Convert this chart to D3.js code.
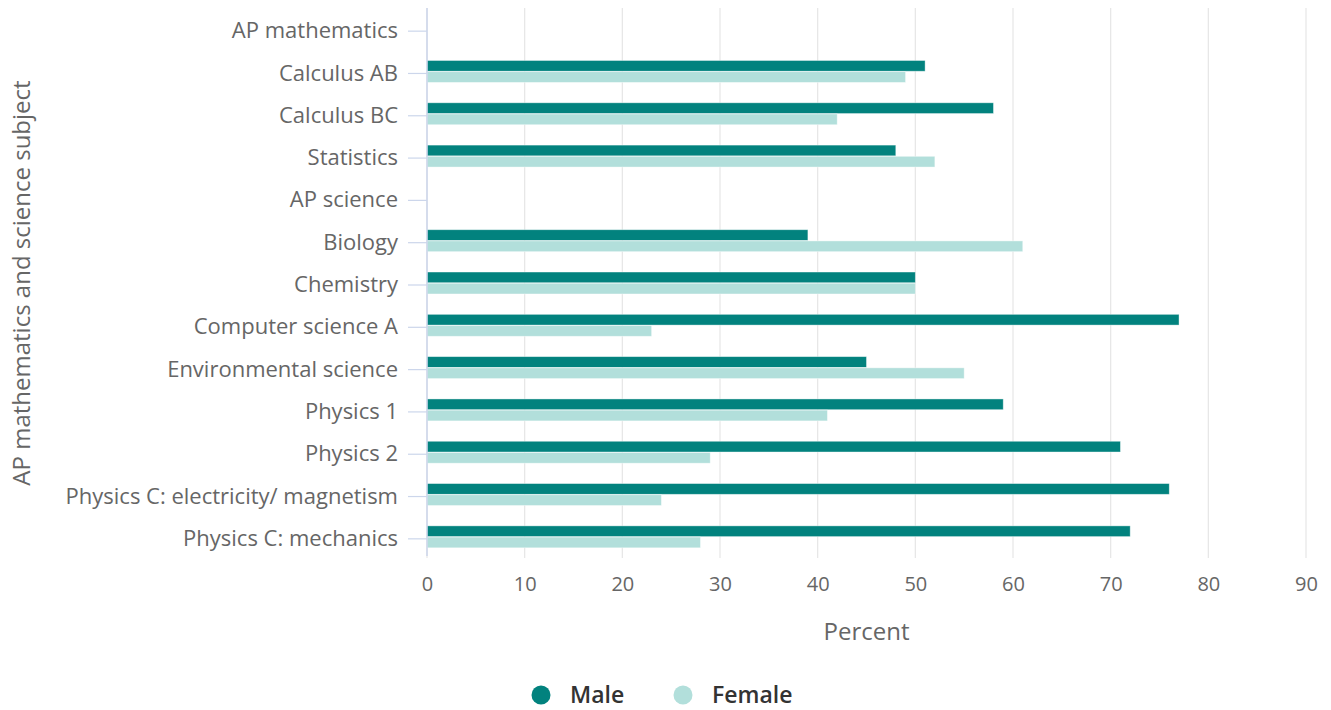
<!DOCTYPE html>
<html>
<head>
<meta charset="utf-8">
<script src="https://cdn.jsdelivr.net/npm/d3@7"></script>
<style>
  html, body { margin: 0; padding: 0; background: #fff; }
  svg { display: block; font-family: "Open Sans", sans-serif; }
</style>
</head>
<body>
<svg id="chart" width="1331" height="710"></svg>
<script>
// AP exam takers by sex, percent
const categories = [
  "AP mathematics", "Calculus AB", "Calculus BC", "Statistics",
  "AP science", "Biology", "Chemistry", "Computer science A",
  "Environmental science", "Physics 1", "Physics 2",
  "Physics C: electricity/ magnetism", "Physics C: mechanics"
];
const maleValues   = [null, 51, 58, 48, null, 39, 50, 77, 45, 59, 71, 76, 72];
const femaleValues = [null, 49, 42, 52, null, 61, 50, 23, 55, 41, 29, 24, 28];
const seriesNames  = ["Male", "Female"];
const seriesColors = ["#02827e", "#b2dfdb"];
const xTicks = [0, 10, 20, 30, 40, 50, 60, 70, 80, 90];

const svg = d3.select("#chart");
const plot = { left: 427, right: 1306, top: 10, bottom: 560 };

const x = d3.scaleLinear().domain([0, 90]).range([plot.left, plot.right]);
const y = d3.scaleBand().domain(categories)
  .range([plot.top, plot.bottom])
  .paddingInner(0.46).paddingOuter(0.23);
const ySub = d3.scaleBand().domain(seriesNames)
  .range([0, y.bandwidth()]).padding(0.04);

// vertical grid lines
svg.append("g").selectAll("line").data(xTicks).join("line")
  .attr("x1", d => x(d)).attr("x2", d => x(d))
  .attr("y1", plot.top - 2).attr("y2", plot.bottom - 2)
  .attr("stroke", "#e6e6e6").attr("stroke-width", 1.2);

// bars
const rows = categories.map((c, i) => ({
  cat: c,
  vals: [maleValues[i], femaleValues[i]]
}));
const bars = svg.append("g").attr("transform", "translate(0,-2)");
rows.forEach(r => {
  r.vals.forEach((v, si) => {
    if (v == null) return;
    bars.append("rect")
      .attr("x", x(0))
      .attr("y", y(r.cat) + ySub(seriesNames[si]))
      .attr("width", x(v) - x(0))
      .attr("height", ySub.bandwidth())
      .attr("fill", seriesColors[si])
      .attr("stroke", "#ffffff").attr("stroke-opacity", 0.5)
      .attr("stroke-width", 0.8);
  });
});

// y axis
const yAxis = d3.axisLeft(y).tickSize(19).tickPadding(10);
const gy = svg.append("g").attr("transform", `translate(${plot.left},0)`).call(yAxis);
gy.select(".domain").attr("stroke", "#ccd6eb").attr("stroke-width", 1.5)
  .attr("d", `M0,${plot.top - 2}V${plot.bottom - 4}`);
gy.selectAll(".tick line").attr("stroke", "#ccd6eb").attr("stroke-width", 1.2);
gy.selectAll(".tick text").attr("fill", "#666").attr("font-size", "22px")
  .attr("font-family", "'Open Sans', sans-serif");

// x axis labels
const xAxis = d3.axisBottom(x).tickValues(xTicks).tickSize(0).tickPadding(0);
const gx = svg.append("g").attr("transform", `translate(0,577)`).call(xAxis);
gx.select(".domain").remove();
gx.selectAll(".tick text").attr("fill", "#666").attr("font-size", "20px")
  .attr("font-family", "'Open Sans', sans-serif");

// axis titles
svg.append("text")
  .attr("x", (plot.left + plot.right) / 2).attr("y", 640)
  .attr("text-anchor", "middle").attr("fill", "#666").attr("font-size", "24px")
  .text("Percent");
svg.append("text")
  .attr("transform", `translate(30,${(plot.top + plot.bottom) / 2 - 2}) rotate(-90)`)
  .attr("text-anchor", "middle").attr("fill", "#666").attr("font-size", "24px")
  .text("AP mathematics and science subject");

// legend
const legend = svg.append("g");
const legendX = [541, 683];
seriesNames.forEach((name, i) => {
  legend.append("circle").attr("cx", legendX[i]).attr("cy", 695).attr("r", 9.5)
    .attr("fill", seriesColors[i]);
  legend.append("text").attr("x", legendX[i] + 29).attr("y", 703)
    .attr("fill", "#333").attr("font-size", "23px").attr("font-weight", 600)
    .text(name);
});
</script>
</body>
</html>
